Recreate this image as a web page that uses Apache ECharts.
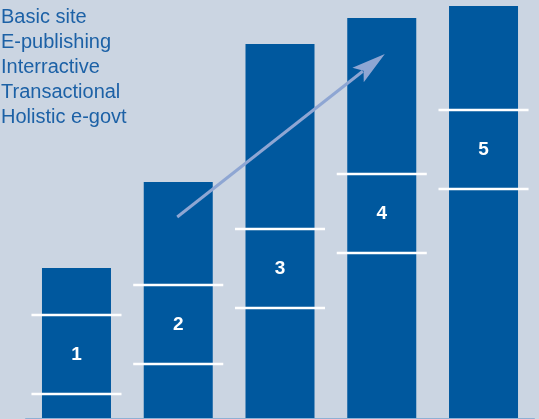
<!DOCTYPE html>
<html><head><meta charset="utf-8">
<script src="https://cdn.jsdelivr.net/npm/echarts@6/dist/echarts.min.js"></script>
<style>html,body{margin:0;padding:0;background:#cbd5e2;}#c{width:539px;height:419px;}</style>
</head><body><div id="c"></div>
<script>
// Stage numbers (x categories) and their names (list at top-left)
const stages = ['1', '2', '3', '4', '5'];
const stageNames = ['Basic site', 'E-publishing', 'Interractive', 'Transactional', 'Holistic e-govt'];
// Bar heights (arbitrary units)
const barValues = [150, 236, 374, 400, 412];
// Level of the lower and upper white marker line on each bar
const bandLower = [24, 54, 110, 165, 229];
const bandUpper = [103, 133, 189, 244, 308];
// Trend arrow: start and tip (x in stage-index units, y in bar units)
const arrowFrom = [0.99, 201];
const arrowTo = [3.03, 364];

const chart = echarts.init(document.getElementById('c'));

const bandData = stages.map((s, i) => [i, bandLower[i], bandUpper[i]]);

function renderBand(params, api) {
  const i = api.value(0);
  const lo = api.coord([i, api.value(1)]);
  const hi = api.coord([i, api.value(2)]);
  const band = api.size([1, 0])[0];
  const half = band * 0.885 / 2;
  const lineStyle = { stroke: '#ffffff', lineWidth: 2.5 };
  return {
    type: 'group',
    children: [
      { type: 'line', shape: { x1: lo[0] - half, y1: lo[1], x2: lo[0] + half, y2: lo[1] }, style: lineStyle },
      { type: 'line', shape: { x1: hi[0] - half, y1: hi[1], x2: hi[0] + half, y2: hi[1] }, style: lineStyle },
      { type: 'text', x: lo[0], y: (lo[1] + hi[1]) / 2,
        style: { text: stages[params.dataIndex], fill: '#ffffff', font: 'bold 19px "Liberation Sans", Arial, sans-serif',
                 align: 'center', verticalAlign: 'middle' } }
    ]
  };
}

function renderArrow(params, api) {
  const p0 = api.coord([api.value(0), api.value(1)]);
  const p1 = api.coord([api.value(2), api.value(3)]);
  const dx = p1[0] - p0[0], dy = p1[1] - p0[1];
  const len = Math.sqrt(dx * dx + dy * dy);
  const ux = dx / len, uy = dy / len;
  const nx = -uy, ny = ux;
  const headLen = 34, halfW = 9.2, notch = 27;
  const base = [p1[0] - ux * headLen, p1[1] - uy * headLen];
  const nPt = [p1[0] - ux * notch, p1[1] - uy * notch];
  const color = '#8ea6d3';
  return {
    type: 'group',
    children: [
      { type: 'line', shape: { x1: p0[0], y1: p0[1], x2: nPt[0] - ux * 1, y2: nPt[1] - uy * 1 },
        style: { stroke: color, lineWidth: 3 } },
      { type: 'polygon', shape: { points: [
          p1, [base[0] + nx * halfW, base[1] + ny * halfW], nPt, [base[0] - nx * halfW, base[1] - ny * halfW]
        ] }, style: { fill: color } }
    ]
  };
}

chart.setOption({
  backgroundColor: '#cbd5e2',
  animation: false,
  title: {
    text: stageNames.join('\n'),
    left: 1, top: 5, padding: 0,
    textStyle: { color: '#1c61a6', fontSize: 20, fontWeight: 'normal', lineHeight: 25,
                 fontFamily: '"Liberation Sans", Arial, sans-serif' }
  },
  grid: { left: 25.6, right: 4.6, top: 0, bottom: 1 },
  xAxis: [
    { type: 'category', data: stages, axisLine: { lineStyle: { color: '#8fb0d4', width: 1 } },
      axisTick: { show: false }, axisLabel: { show: false } },
    { type: 'value', min: -0.5, max: 4.5, show: false }
  ],
  yAxis: { type: 'value', min: 0, max: 418, show: false, splitLine: { show: false } },
  series: [
    { type: 'bar', data: barValues, barWidth: 69, itemStyle: { color: '#00589e' }, z: 2 },
    { type: 'custom', data: bandData, renderItem: renderBand, z: 3, xAxisIndex: 0 },
    { type: 'custom', data: [[arrowFrom[0], arrowFrom[1], arrowTo[0], arrowTo[1]]], renderItem: renderArrow,
      xAxisIndex: 1, z: 4 }
  ]
});
</script>
</body></html>
